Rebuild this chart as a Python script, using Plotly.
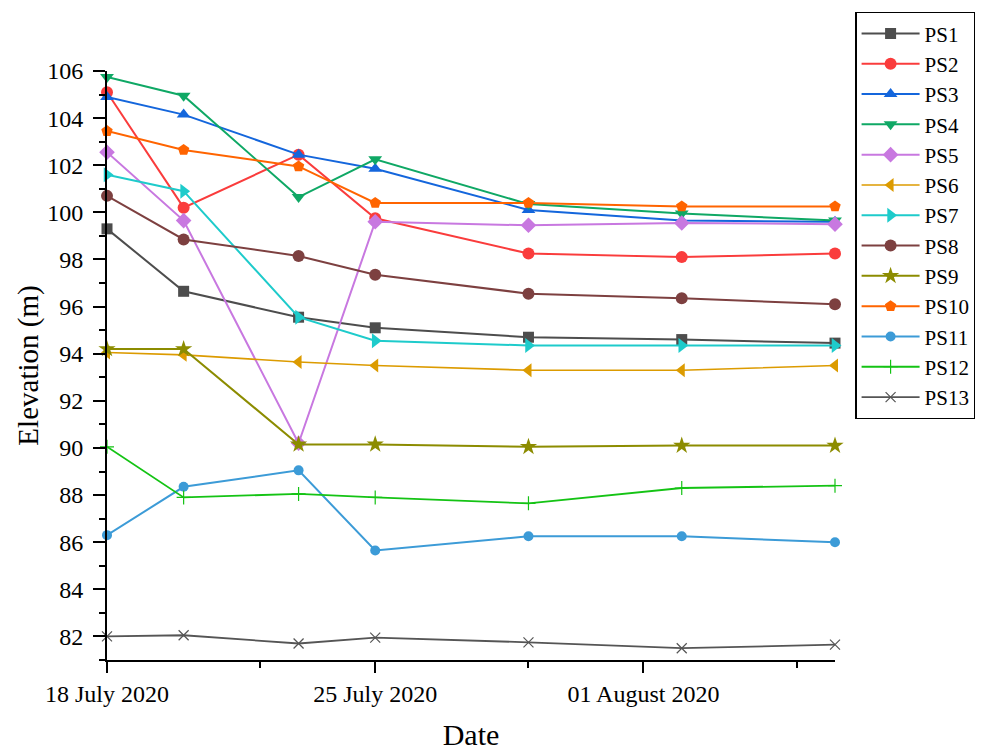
import plotly.graph_objects as go

# Survey dates
dates = ["2020-07-18", "2020-07-20", "2020-07-23", "2020-07-25",
         "2020-07-29", "2020-08-02", "2020-08-06"]

# Elevation (m) of each point PS1..PS13 on the survey dates
ps1 = [99.3, 96.65, 95.55, 95.1, 94.7, 94.6, 94.45]
ps2 = [105.1, 100.2, 102.45, 99.75, 98.25, 98.1, 98.25]
ps3 = [104.9, 104.15, 102.45, 101.85, 100.1, 99.65, 99.6]
ps4 = [105.75, 104.95, 100.65, 102.25, 100.35, 99.95, 99.65]
ps5 = [102.55, 99.65, 90.2, 99.6, 99.45, 99.55, 99.5]
ps6 = [94.05, 93.95, 93.65, 93.5, 93.3, 93.3, 93.5]
ps7 = [101.6, 100.9, 95.55, 94.55, 94.35, 94.35, 94.35]
ps8 = [100.7, 98.85, 98.15, 97.35, 96.55, 96.35, 96.1]
ps9 = [94.2, 94.2, 90.15, 90.15, 90.05, 90.1, 90.1]
ps10 = [103.45, 102.65, 101.95, 100.4, 100.4, 100.25, 100.25]
ps11 = [86.3, 88.35, 89.05, 85.65, 86.25, 86.25, 86.0]
ps12 = [90.05, 87.9, 88.05, 87.9, 87.65, 88.3, 88.4]
ps13 = [82.0, 82.05, 81.7, 81.95, 81.75, 81.5, 81.65]

names = ["PS1", "PS2", "PS3", "PS4", "PS5", "PS6", "PS7",
         "PS8", "PS9", "PS10", "PS11", "PS12", "PS13"]
series = [ps1, ps2, ps3, ps4, ps5, ps6, ps7, ps8, ps9, ps10, ps11, ps12, ps13]

# x-axis labelling
major_ticks = ["2020-07-18", "2020-07-25", "2020-08-01"]
major_text = ["18 July 2020", "25 July 2020", "01 August 2020"]
minor_ticks = ["2020-07-22", "2020-07-29", "2020-08-05"]

colors = ["#4d4d4d", "#fa3c3c", "#1466dc", "#0fa865", "#c878e0", "#dc9b00",
          "#1ecbcb", "#7d4040", "#8c8c00", "#ff6400", "#3c9bd7", "#14c314", "#555555"]
symbols = ["square", "circle", "triangle-up", "triangle-down", "diamond",
           "triangle-left", "triangle-right", "circle", "star", "pentagon",
           "circle", "cross-thin", "x-thin"]
sizes = [11, 12, 12, 12, 12, 12, 13, 12, 13, 12, 10, 10, 10]
widths = [2, 2, 2, 2, 2, 1.6, 2, 2, 2, 2, 2, 1.8, 1.8]

FONT = "Liberation Serif, Times New Roman, serif"

fig = go.Figure()
for name, vals, c, s, sz, w in zip(names, series, colors, symbols, sizes, widths):
    marker = dict(symbol=s, size=sz, color=c)
    if s.endswith("-thin"):
        marker["line"] = dict(color=c, width=1.2)
    fig.add_trace(go.Scatter(
        x=dates, y=vals, name=name, mode="lines+markers",
        line=dict(color=c, width=w), marker=marker, cliponaxis=False,
    ))

fig.update_layout(
    width=987, height=751,
    paper_bgcolor="white", plot_bgcolor="white",
    margin=dict(l=107, r=144, t=70, b=91),
    font=dict(family=FONT, color="black", size=24),
    showlegend=True,
    legend=dict(
        x=1.028, y=1.1, xanchor="left", yanchor="top",
        bordercolor="black", borderwidth=1.2,
        font=dict(family=FONT, size=21, color="black"),
        itemwidth=58, tracegroupgap=0, maxheight=720,
    ),
)

fig.update_xaxes(
    type="date", range=["2020-07-18", "2020-08-06"],
    tickmode="array", tickvals=major_ticks, ticktext=major_text,
    ticks="outside", ticklen=11, tickwidth=2, tickcolor="black",
    showline=True, linewidth=2, linecolor="black", showgrid=False, zeroline=False,
    tickfont=dict(family=FONT, size=24),
    minor=dict(tickmode="array", tickvals=minor_ticks, ticks="outside",
               ticklen=6, tickwidth=2, tickcolor="black", showgrid=False),
    title=dict(text="Date", font=dict(family=FONT, size=30), standoff=20),
    automargin=False,
)
fig.update_yaxes(
    range=[81, 106], dtick=2, tick0=82,
    ticks="outside", ticklen=12, tickwidth=2, tickcolor="black",
    showline=True, linewidth=2, linecolor="black", showgrid=False, zeroline=False,
    tickfont=dict(family=FONT, size=24), ticklabelstandoff=5,
    minor=dict(dtick=1, tick0=81, ticks="outside", ticklen=6, tickwidth=2,
               tickcolor="black", showgrid=False),
    title=dict(text="Elevation (m)", font=dict(family=FONT, size=29), standoff=0),
    automargin=False,
)

fig.write_html("out.html")
